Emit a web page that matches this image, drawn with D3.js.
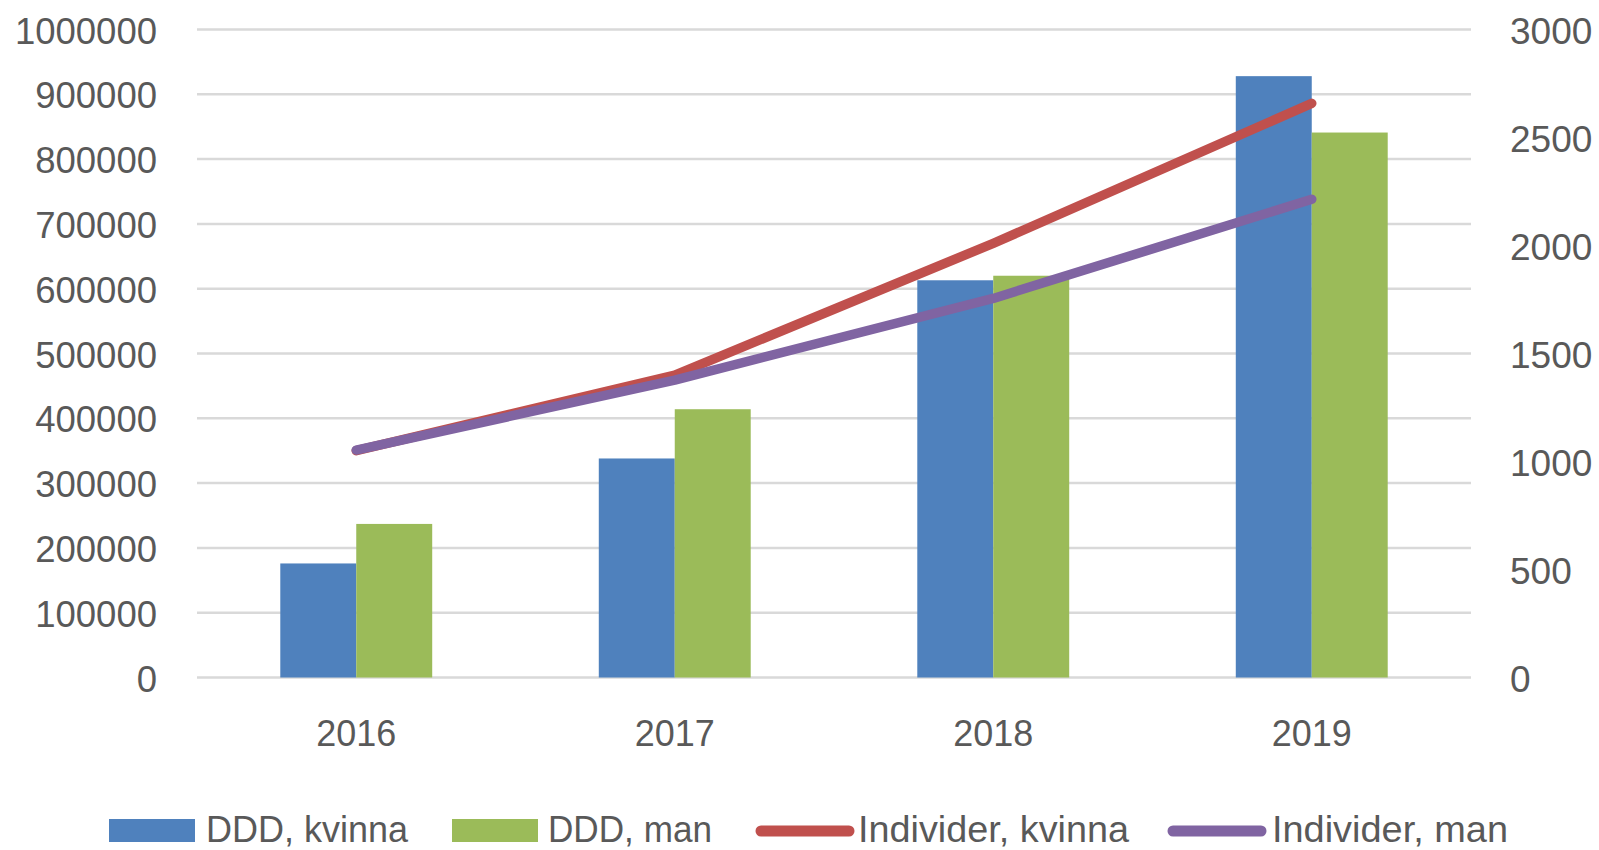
<!DOCTYPE html>
<html>
<head>
<meta charset="utf-8">
<script src="https://cdn.jsdelivr.net/npm/d3@7"></script>
<style>
  html, body { margin: 0; padding: 0; background: #ffffff; }
  svg { display: block; }
</style>
</head>
<body>
<svg id="chart" width="1599" height="850"></svg>
<script>
// ---- data ----
const years = ["2016", "2017", "2018", "2019"];
const dddKvinna = [176000, 338000, 613000, 928000];
const dddMan = [237000, 414000, 620000, 841000];
const indKvinna = [1050, 1400, 2010, 2658];
const indMan = [1053, 1377, 1755, 2214];
const leftTicks = [0, 100000, 200000, 300000, 400000, 500000, 600000, 700000, 800000, 900000, 1000000];
const rightTicks = [0, 500, 1000, 1500, 2000, 2500, 3000];
const barSeries = ["DDD, kvinna", "DDD, man"];
const lineSeries = ["Individer, kvinna", "Individer, man"];

// ---- styles ----
const colors = {
  "DDD, kvinna": "#4F81BD",
  "DDD, man": "#9BBB59",
  "Individer, kvinna": "#C0504D",
  "Individer, man": "#8064A2"
};
const textColor = "#595959";
const gridColor = "#d9d9d9";
const fontFam = "'Liberation Sans', Arial, sans-serif";

const svg = d3.select("#chart");
const plotL = 197, plotR = 1471, plotT = 29.5, plotB = 677.5;

const x0 = d3.scaleBand().domain(years).range([plotL, plotR]).padding(0);
const groupW = x0.bandwidth() * 0.477;
const x1 = d3.scaleBand().domain(barSeries).range([-groupW / 2, groupW / 2]).padding(0);
const yL = d3.scaleLinear().domain([0, 1000000]).range([plotB, plotT]);
const yR = d3.scaleLinear().domain([0, 3000]).range([plotB, plotT]);

// gridlines
svg.append("g").selectAll("line").data(leftTicks).join("line")
  .attr("x1", plotL).attr("x2", plotR)
  .attr("y1", d => yL(d)).attr("y2", d => yL(d))
  .attr("stroke", gridColor).attr("stroke-width", 2.5);

// left axis
const gL = svg.append("g").attr("transform", `translate(${plotL},0)`)
  .call(d3.axisLeft(yL).tickValues(leftTicks).tickSize(0).tickPadding(40).tickFormat(d3.format("d")));
gL.select(".domain").remove();
gL.selectAll("text").attr("fill", textColor).attr("font-family", fontFam).attr("font-size", 37.5)
  .attr("dy", "0.36em")
  .attr("textLength", d => String(d).length * 20.3).attr("lengthAdjust", "spacingAndGlyphs");

// right axis
const gR = svg.append("g").attr("transform", `translate(${plotR},0)`)
  .call(d3.axisRight(yR).tickValues(rightTicks).tickSize(0).tickPadding(39).tickFormat(d3.format("d")));
gR.select(".domain").remove();
gR.selectAll("text").attr("fill", textColor).attr("font-family", fontFam).attr("font-size", 37.5)
  .attr("dy", "0.36em")
  .attr("textLength", d => String(d).length * 20.6).attr("lengthAdjust", "spacingAndGlyphs");

// x axis
const gX = svg.append("g").attr("transform", `translate(0,${plotB})`)
  .call(d3.axisBottom(x0).tickSize(0).tickPadding(42));
gX.select(".domain").remove();
gX.selectAll("text").attr("fill", textColor).attr("font-family", fontFam).attr("font-size", 37.5)
  .attr("textLength", 80).attr("lengthAdjust", "spacingAndGlyphs");

// bars
const barData = years.map((y, i) => ({year: y, vals: [
  {s: "DDD, kvinna", v: dddKvinna[i]},
  {s: "DDD, man", v: dddMan[i]}
]}));
svg.append("g").selectAll("g").data(barData).join("g")
  .attr("transform", d => `translate(${x0(d.year) + x0.bandwidth() / 2},0)`)
  .selectAll("rect").data(d => d.vals).join("rect")
  .attr("x", d => x1(d.s)).attr("width", x1.bandwidth())
  .attr("y", d => yL(d.v)).attr("height", d => plotB - yL(d.v))
  .attr("fill", d => colors[d.s]);

// lines
const lineGen = d3.line()
  .x((d, i) => x0(years[i]) + x0.bandwidth() / 2)
  .y(d => yR(d));
[[indKvinna, "Individer, kvinna"], [indMan, "Individer, man"]].forEach(([vals, name]) => {
  svg.append("path").datum(vals)
    .attr("d", lineGen)
    .attr("fill", "none")
    .attr("stroke", colors[name])
    .attr("stroke-width", 9.5)
    .attr("stroke-linecap", "round")
    .attr("stroke-linejoin", "round");
});

// legend
const legendItems = [
  {name: "DDD, kvinna", type: "rect", sx: 109, sw: 86, tx: 206, tw: 202},
  {name: "DDD, man", type: "rect", sx: 452, sw: 86, tx: 548, tw: 164},
  {name: "Individer, kvinna", type: "line", sx: 761, sw: 88, tx: 858, tw: 271},
  {name: "Individer, man", type: "line", sx: 1173, sw: 88, tx: 1272, tw: 236}
];
const lg = svg.append("g");
legendItems.forEach(it => {
  if (it.type === "rect") {
    lg.append("rect").attr("x", it.sx).attr("y", 819).attr("width", it.sw).attr("height", 23)
      .attr("fill", colors[it.name]);
  } else {
    lg.append("line").attr("x1", it.sx).attr("x2", it.sx + it.sw).attr("y1", 831).attr("y2", 831)
      .attr("stroke", colors[it.name]).attr("stroke-width", 11).attr("stroke-linecap", "round");
  }
  lg.append("text").attr("x", it.tx).attr("y", 842)
    .attr("fill", textColor).attr("font-family", fontFam).attr("font-size", 37)
    .attr("textLength", it.tw).attr("lengthAdjust", "spacingAndGlyphs")
    .text(it.name);
});
</script>
</body>
</html>
